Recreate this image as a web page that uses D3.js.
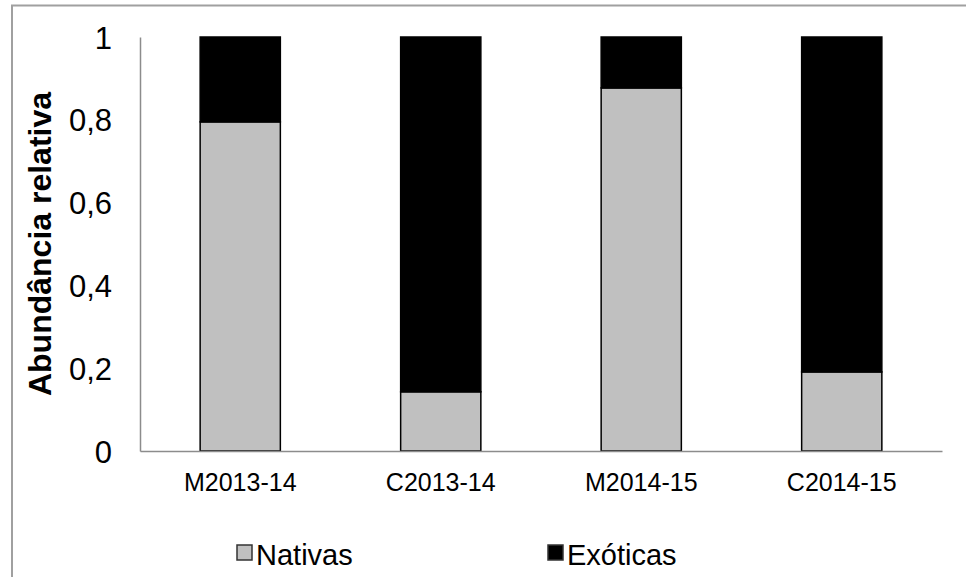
<!DOCTYPE html>
<html>
<head>
<meta charset="utf-8">
<script src="https://cdn.jsdelivr.net/npm/d3@7"></script>
<style>
  html, body { margin: 0; padding: 0; background: #fff; }
  svg { display: block; font-family: "Liberation Sans", Arial, sans-serif; }
</style>
</head>
<body>
<svg id="chart" width="966" height="577"></svg>
<script>
// Relative abundance of native vs. exotic species per site/season
const categories = ["M2013-14", "C2013-14", "M2014-15", "C2014-15"];
const nativas = [0.795, 0.143, 0.877, 0.191];
const exoticas = [0.205, 0.857, 0.123, 0.809];
const yTicks = [0, 0.2, 0.4, 0.6, 0.8, 1];
const seriesNames = ["Nativas", "Exóticas"];
const seriesColors = ["#c0c0c0", "#000000"];

const svg = d3.select("#chart");
const margin = { left: 140, right: 24, top: 37, bottom: 126 };
const W = 966, H = 577;

// outer chart frame (runs past the right and bottom edges)
svg.append("rect")
  .attr("x", 12).attr("y", 5.5)
  .attr("width", 1000).attr("height", 700)
  .attr("fill", "none").attr("stroke", "#a0a0a0").attr("stroke-width", 2);

const x = d3.scaleBand()
  .domain(categories)
  .range([margin.left, W - margin.right])
  .paddingInner(0.6)
  .paddingOuter(0.3);

const y = d3.scaleLinear()
  .domain([0, 1])
  .range([H - margin.bottom, margin.top]);

// stacked data
const rows = categories.map((c, i) => ({ cat: c, Nativas: nativas[i], "Exóticas": exoticas[i] }));
const stacked = d3.stack().keys(seriesNames)(rows);

svg.append("g").selectAll("g")
  .data(stacked)
  .join("g")
  .attr("fill", (d, i) => seriesColors[i])
  .selectAll("rect")
  .data(d => d)
  .join("rect")
  .attr("x", d => x(d.data.cat))
  .attr("y", d => y(d[1]))
  .attr("width", x.bandwidth())
  .attr("height", d => y(d[0]) - y(d[1]))
  .attr("stroke", "#000")
  .attr("stroke-width", 1.5);

// y axis
const yAxis = svg.append("g")
  .attr("transform", `translate(${margin.left},0)`)
  .call(d3.axisLeft(y).tickValues(yTicks).tickSize(0).tickPadding(28)
    .tickFormat(d => String(d).replace(".", ",")));
yAxis.select(".domain").attr("stroke", "#8c8c8c").attr("stroke-width", 1.5);
yAxis.selectAll("text")
  .attr("font-size", 31)
  .attr("fill", "#000")
  .attr("dy", "0.36em")
  .style("font-family", "'Liberation Sans', Arial, sans-serif");

// x axis
const xAxis = svg.append("g")
  .attr("transform", `translate(0,${y(0)})`)
  .call(d3.axisBottom(x).tickSize(0).tickPadding(22));
xAxis.select(".domain").attr("stroke", "#8c8c8c").attr("stroke-width", 1.5);
xAxis.selectAll("text")
  .attr("font-size", 25)
  .attr("fill", "#000")
  .style("font-family", "'Liberation Sans', Arial, sans-serif");

// y axis title
svg.append("text")
  .attr("transform", `translate(51,${(y(0) + y(1)) / 2}) rotate(-90)`)
  .attr("text-anchor", "middle")
  .attr("font-size", 32)
  .attr("font-weight", "bold")
  .text("Abundância relativa");

// legend
const legendX = [237, 548];
const legend = svg.append("g").selectAll("g")
  .data(seriesNames)
  .join("g")
  .attr("transform", (d, i) => `translate(${legendX[i]},545)`);
legend.append("rect")
  .attr("width", 15).attr("height", 15)
  .attr("fill", (d, i) => seriesColors[i])
  .attr("stroke", "#333").attr("stroke-width", 1.5);
legend.append("text")
  .attr("x", 19).attr("y", 20)
  .attr("font-size", 29)
  .text(d => d);
</script>
</body>
</html>
